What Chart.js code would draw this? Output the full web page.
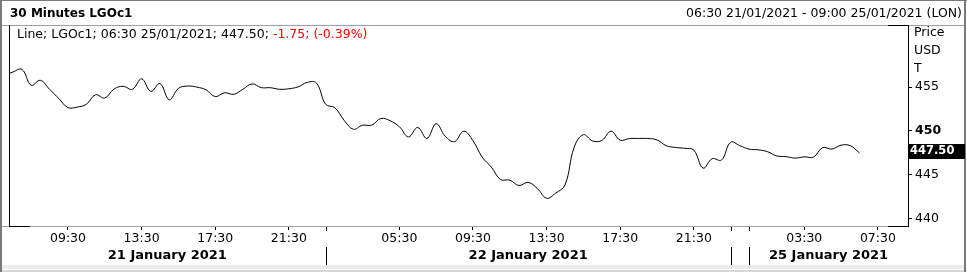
<!DOCTYPE html>
<html>
<head>
<meta charset="utf-8">
<script src="https://cdn.jsdelivr.net/npm/chart.js@4/dist/chart.umd.min.js"></script>
<style>
html,body{margin:0;padding:0;background:#fff;}
#wrap{width:967px;height:272px;position:relative;}
canvas{display:block;}
</style>
</head>
<body>
<div id="wrap"><canvas id="c" width="967" height="272"></canvas></div>
<script>
// ---- data ----
const chartTitle = '30 Minutes LGOc1';
const rangeText = '06:30 21/01/2021 - 09:00 25/01/2021 (LON)';
const legendBlack = 'Line; LGOc1; 06:30 25/01/2021; 447.50; ';
const legendRed = '-1.75; (-0.39%)';
const lastPriceLabel = '447.50';
const lastPrice = 447.50;
const axisUnits = ['Price', 'USD', 'T'];

const dayNames = ['21 January 2021', '22 January 2021', '', '25 January 2021'];
const dayFirstBar = ['06:00', '01:30', '23:30', '00:30'];
const dayBarCount = [35, 44, 2, 18];
const dayTickTimes = [
  ['09:30', '13:30', '17:30', '21:30'],
  ['05:30', '09:30', '13:30', '17:30', '21:30'],
  [],
  ['03:30', '07:30']
];

const values21 = [456.3, 456.7, 457.0, 455.2, 455.76, 454.73, 453.7, 452.66,
  452.72, 453.04, 454.12, 453.75, 454.77, 455.08, 454.74, 455.93,
  454.51, 455.39, 453.55, 454.85, 455.11, 454.99, 454.68, 453.91,
  454.35, 454.17, 454.74, 455.36, 454.93, 454.92, 454.74, 454.80,
  455.02, 455.53, 455.45];
const values22 = [453.04, 452.64, 451.22, 450.2, 450.66, 450.66, 451.42, 451.17, 450.49,
  449.33, 450.4, 449.15, 450.83, 449.39, 448.79, 449.98, 448.9,
  447.03, 445.9, 444.48, 444.42, 443.8, 444.16, 443.46, 442.35,
  442.95, 443.86, 448.16, 449.58, 448.87, 448.93, 449.98, 448.96,
  449.14, 449.15, 449.15, 448.98, 448.33, 448.13, 448.03, 447.82,
  445.78, 446.86, 446.69];
const values24 = [448.73, 448.33];
const values25 = [447.94, 447.86, 447.65, 447.17, 447.09, 446.92, 447.06,
  447.03, 448.11, 447.94, 448.39, 448.33, 447.5];

const yTicks = [440, 445, 450, 455];

// ---- build categories ----
function addMinutes(t, m) {
  let [h, mm] = t.split(':').map(Number);
  let tot = h * 60 + mm + m;
  tot = ((tot % 1440) + 1440) % 1440;
  return String(Math.floor(tot / 60)).padStart(2, '0') + ':' + String(tot % 60).padStart(2, '0');
}
const barTimes = [];
const barDay = [];
const dayStart = [];
dayNames.forEach((d, di) => {
  dayStart.push(barTimes.length);
  for (let k = 0; k < dayBarCount[di]; k++) {
    barTimes.push(addMinutes(dayFirstBar[di], 30 * k));
    barDay.push(di);
  }
});
const tickIdx = [];
barTimes.forEach((t, i) => { if (dayTickTimes[barDay[i]].includes(t)) tickIdx.push(i); });
const allValues = [values21, values22, values24, values25];
const points = [];
allValues.forEach((arr, di) => arr.forEach((v, k) => points.push({ x: dayStart[di] + k, y: v })));

const FONT = '"DejaVu Sans", Verdana, sans-serif';

const decor = {
  id: 'decor',
  beforeDraw(chart) {
    const c = chart.ctx;
    c.save();
    c.fillStyle = '#fff';
    c.fillRect(0, 0, chart.width, chart.height);
    c.restore();
  },
  afterDraw(chart) {
    const c = chart.ctx;
    const a = chart.chartArea;
    const xs = chart.scales.x, ys = chart.scales.y;
    c.save();
    // outer window frame
    c.fillStyle = '#ececec';
    c.fillRect(0, 265, 964, 4);
    c.fillStyle = '#d8d8d8';
    c.fillRect(0, 270, 967, 2);
    c.fillStyle = '#7a7a7a';
    c.fillRect(0, 0, 967, 1);
    c.fillRect(0, 0, 2, 272);
    c.fillRect(964, 0, 2, 272);
    // header separator & plot frame
    c.lineWidth = 1;
    c.strokeStyle = '#a0a0a8';
    c.beginPath();
    c.moveTo(2, 25.5); c.lineTo(964, 25.5);
    c.moveTo(2, a.bottom + 0.5); c.lineTo(a.right, a.bottom + 0.5);
    c.stroke();
    c.strokeStyle = '#000';
    c.beginPath();
    c.moveTo(a.left + 0.5, a.top); c.lineTo(a.left + 0.5, a.bottom + 1);
    c.moveTo(a.left, a.bottom + 0.5); c.lineTo(a.left + 21, a.bottom + 0.5);
    c.moveTo(a.right + 0.5, a.top); c.lineTo(a.right + 0.5, a.bottom + 1);
    c.moveTo(a.right - 20, a.top + 0.5); c.lineTo(a.right + 1, a.top + 0.5);
    c.moveTo(a.right - 20, a.bottom + 0.5); c.lineTo(a.right + 1, a.bottom + 0.5);
    c.stroke();
    // title & range
    c.fillStyle = '#000';
    c.textBaseline = 'middle';
    c.font = 'bold 12px ' + FONT;
    c.textAlign = 'left';
    c.fillText(chartTitle, 10, 13.5);
    c.font = '12.5px ' + FONT;
    c.textAlign = 'right';
    c.fillText(rangeText, 962, 13.5);
    // legend
    c.textAlign = 'left';
    c.fillText(legendBlack, 17, 35);
    const w = c.measureText(legendBlack).width;
    c.fillStyle = '#ff0000';
    c.fillText(legendRed, 17 + w, 35);
    // axis units
    c.fillStyle = '#000';
    axisUnits.forEach((t, i) => c.fillText(t, a.right + 6, 33 + i * 18));
    // last price box
    const py = Math.round(ys.getPixelForValue(lastPrice)) - 2;
    c.fillStyle = '#000';
    c.fillRect(a.right + 1, py - 7, 56, 15);
    c.fillStyle = '#fff';
    c.font = 'bold 11.5px ' + FONT;
    c.fillText(lastPriceLabel, a.right + 2, py + 0.5);
    // day separators & names
    c.strokeStyle = '#000';
    c.beginPath();
    for (let di = 1; di < dayNames.length; di++) {
      const x = Math.round(xs.getPixelForValue(dayStart[di])) + 0.5;
      c.moveTo(x, a.bottom + 1); c.lineTo(x, a.bottom + 5);
      c.moveTo(x, 247); c.lineTo(x, 265);
    }
    c.stroke();
    c.fillStyle = '#000';
    c.font = 'bold 13px ' + FONT;
    c.textAlign = 'center';
    for (let di = 0; di < dayNames.length; di++) {
      if (!dayNames[di]) continue;
      const x0 = di === 0 ? a.left : xs.getPixelForValue(dayStart[di]);
      const x1 = di === dayNames.length - 1 ? a.right : xs.getPixelForValue(dayStart[di + 1]);
      c.fillText(dayNames[di], (x0 + x1) / 2, 255.5);
    }
    c.restore();
  }
};

new Chart(document.getElementById('c'), {
  type: 'line',
  data: {
    datasets: [{
      data: points,
      borderColor: '#000',
      borderWidth: 1,
      pointRadius: 0,
      tension: 0.4,
      fill: false
    }]
  },
  options: {
    responsive: false,
    animation: false,
    events: [],
    layout: { padding: { top: 25, left: 9, right: 0, bottom: 0 } },
    plugins: { legend: { display: false }, tooltip: { enabled: false } },
    scales: {
      x: {
        type: 'linear',
        min: 0.59,
        max: 98.27,
        border: { display: false },
        grid: { drawOnChartArea: false, drawTicks: true, tickLength: 4, color: '#000' },
        afterBuildTicks: s => { s.ticks = tickIdx.map(v => ({ value: v })); },
        afterFit: s => { s.height = 46; },
        ticks: {
          autoSkip: false,
          maxRotation: 0,
          padding: 1,
          color: '#000',
          font: { family: FONT, size: 12.5 },
          callback: v => barTimes[v]
        }
      },
      y: {
        position: 'right',
        min: 439.2,
        max: 462.05,
        border: { display: false },
        grid: { drawOnChartArea: false, drawTicks: true, tickLength: 4, color: '#000' },
        afterBuildTicks: s => { s.ticks = yTicks.map(v => ({ value: v })); },
        afterFit: s => { s.width = 59; },
        ticks: {
          padding: 3,
          color: '#000',
          font: ctx => (ctx.tick && ctx.tick.value === 450)
            ? { family: FONT, size: 12.5, weight: 'bold' }
            : { family: FONT, size: 12.5 },
          callback: v => String(v)
        }
      }
    }
  },
  plugins: [decor]
});
</script>
</body>
</html>
